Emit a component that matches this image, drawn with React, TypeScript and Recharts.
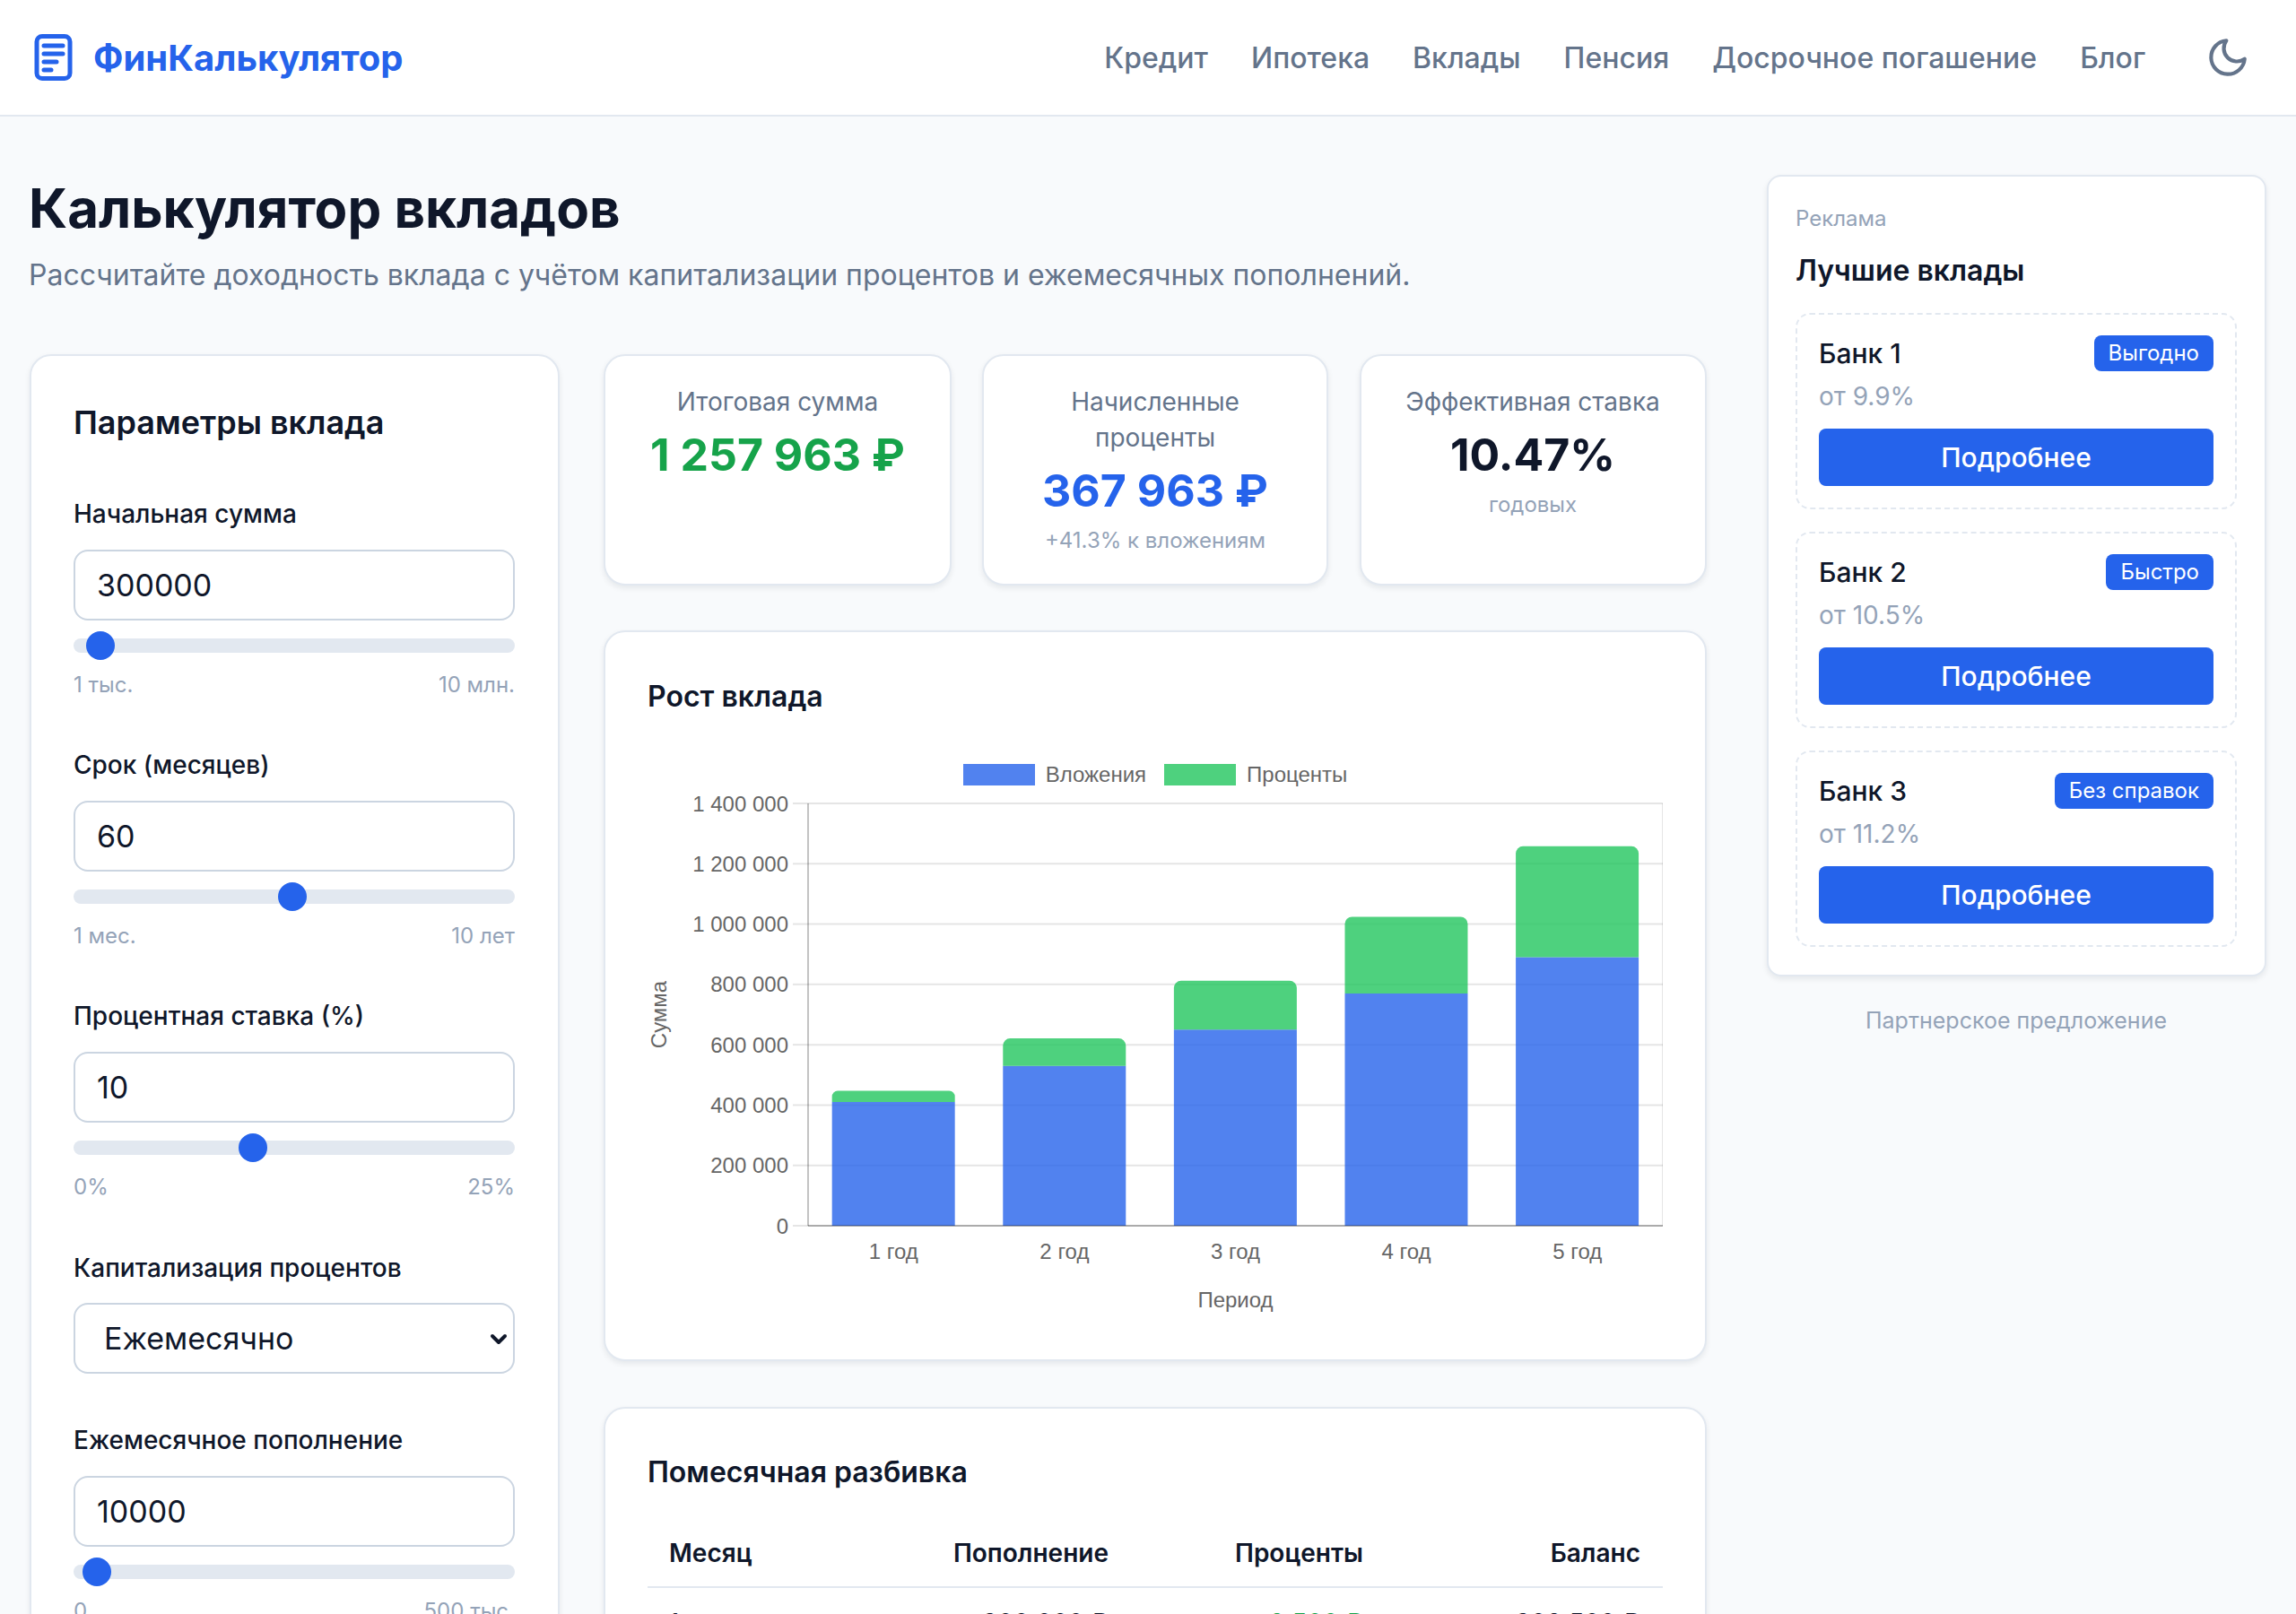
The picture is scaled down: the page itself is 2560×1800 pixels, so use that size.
import React from 'react';
import { BarChart, Bar, XAxis, YAxis, CartesianGrid, Legend } from 'recharts';

const years = ['1 год', '2 год', '3 год', '4 год', '5 год'];
const invested = [410000, 530000, 650000, 770000, 890000];
const interest = [37000, 91000, 162000, 254000, 367963];
const yTicks = [0, 200000, 400000, 600000, 800000, 1000000, 1200000, 1400000];
const gridTicks = [0, 1, 2, 3, 4, 5];

const navLinks = ['Кредит', 'Ипотека', 'Вклады', 'Пенсия', 'Досрочное погашение', 'Блог'];

const bankNames = ['Банк 1', 'Банк 2', 'Банк 3'];
const bankRates = ['от 9.9%', 'от 10.5%', 'от 11.2%'];
const bankBadges = ['Выгодно', 'Быстро', 'Без справок'];

const tableHeaders = ['Пополнение', 'Проценты', 'Баланс'];
const firstRow = ['300 000 ₽', '+2 500 ₽', '302 500 ₽'];

const chartData = years.map((name, i) => ({ name, invested: invested[i], interest: interest[i] }));

const FONT = 'Inter, sans-serif';
const CHART_FONT = '"Liberation Sans", Arial, sans-serif';
const BLUE = '#2563eb';
const DARK = '#0f172a';
const MUTED = '#64748b';
const LIGHT = '#94a3b8';
const BORDER = '#e2e8f0';
const GRID = 'rgba(0,0,0,0.1)';

const formatTick = (v: number) => String(v).replace(/\B(?=(\d{3})+$)/g, ' ');

// текст, привязанный к центру строки по вертикали
const T = ({ x, y, size, color = DARK, weight = 400, align = 'left', children }: any) => {
  const tx = align === 'center' ? '-50%' : align === 'right' ? '-100%' : '0';
  return (
    <div
      style={{
        position: 'absolute',
        left: x,
        top: y,
        transform: `translate(${tx}, -50%)`,
        fontSize: size,
        fontWeight: weight,
        color,
        lineHeight: 1.2,
        whiteSpace: 'nowrap',
      }}
    >
      {children}
    </div>
  );
};

const Card = ({ x, y, w, h, radius = 24 }: any) => (
  <div
    style={{
      position: 'absolute',
      left: x,
      top: y,
      width: w,
      height: h,
      boxSizing: 'border-box',
      background: '#fff',
      border: `2px solid ${BORDER}`,
      borderRadius: radius,
      boxShadow: '0 3px 6px rgba(15,23,42,0.08)',
    }}
  />
);

const TextBox = ({ y, value }: any) => (
  <div
    style={{
      position: 'absolute',
      left: 82,
      top: y,
      width: 492,
      height: 79,
      boxSizing: 'border-box',
      background: '#fff',
      border: '2px solid #cbd5e1',
      borderRadius: 16,
    }}
  >
    <T x={24} y={38} size={34}>{value}</T>
  </div>
);

const Slider = ({ y, thumbX, min, max }: any) => (
  <>
    <div style={{ position: 'absolute', left: 82, top: y - 8, width: 492, height: 16, borderRadius: 8, background: BORDER }} />
    <div style={{ position: 'absolute', left: thumbX - 16, top: y - 16, width: 32, height: 32, borderRadius: 16, background: BLUE }} />
    <T x={82} y={y + 44} size={24} color={LIGHT}>{min}</T>
    <T x={574} y={y + 44} size={24} color={LIGHT} align="right">{max}</T>
  </>
);

const ChartLegend = ({ payload }: any) => (
  <div style={{ display: 'flex', justifyContent: 'center', gap: 20, fontFamily: CHART_FONT, fontSize: 24, color: '#666', lineHeight: '24px' }}>
    {(payload || []).map((p: any) => (
      <div key={p.value} style={{ display: 'flex', gap: 12, alignItems: 'center' }}>
        <span style={{ width: 80, height: 24, background: p.color, display: 'block' }} />
        <span>{p.value}</span>
      </div>
    ))}
  </div>
);

const GrowthChart = () => (
  <BarChart
    width={1132}
    height={640}
    data={chartData}
    barCategoryGap="14%"
    margin={{ top: 36, right: 0, bottom: 0, left: 0 }}
    style={{ fontFamily: CHART_FONT }}
  >
    <CartesianGrid xAxisId="grid" stroke={GRID} strokeWidth={2} />
    <XAxis
      xAxisId="grid"
      type="number"
      domain={[0, 5]}
      ticks={gridTicks}
      height={0}
      tick={false}
      tickSize={16}
      tickLine={{ stroke: GRID, strokeWidth: 2 }}
      axisLine={false}
    />
    <XAxis
      dataKey="name"
      height={109}
      tickLine={false}
      tickMargin={14}
      axisLine={{ stroke: 'rgba(0,0,0,0.25)', strokeWidth: 2 }}
      tick={{ fill: '#666', fontSize: 24 }}
      label={{ value: 'Период', position: 'insideBottom', offset: 18, fill: '#666', fontSize: 24 }}
    />
    <YAxis
      width={179}
      domain={[0, 1400000]}
      ticks={yTicks}
      tickFormatter={formatTick}
      tickSize={17}
      tickMargin={5}
      tickLine={{ stroke: GRID, strokeWidth: 2 }}
      axisLine={{ stroke: 'rgba(0,0,0,0.15)', strokeWidth: 2 }}
      tick={{ fill: '#666', fontSize: 24 }}
      label={{ value: 'Сумма', angle: -90, position: 'insideLeft', offset: 12, fill: '#666', fontSize: 24, style: { textAnchor: 'middle' } }}
    />
    <Legend verticalAlign="top" content={ChartLegend} wrapperStyle={{ top: 16, left: 0, width: 1132 }} />
    <Bar dataKey="invested" name="Вложения" stackId="a" fill="rgba(37,99,235,0.8)" isAnimationActive={false} />
    <Bar dataKey="interest" name="Проценты" stackId="a" fill="rgba(34,197,94,0.8)" radius={[8, 8, 0, 0]} isAnimationActive={false} />
  </BarChart>
);

export default function App() {
  return (
    <div style={{ position: 'fixed', left: 0, top: 0, width: 2560, height: 1800, overflow: 'hidden', background: '#f8fafc', fontFamily: FONT }}>
      {/* Шапка */}
      <div style={{ position: 'absolute', left: 0, top: 0, width: 2560, height: 130, boxSizing: 'border-box', background: '#fff', borderBottom: `2px solid ${BORDER}` }} />
      <svg style={{ position: 'absolute', left: 36, top: 36 }} width={48} height={56} viewBox="0 0 48 56" fill="none" stroke={BLUE} strokeWidth={5}>
        <rect x={5} y={4.5} width={37} height={47} rx={6} />
        <path d="M13 15h21M13 24h21M13 33h14M13 42h8" strokeLinecap="round" />
      </svg>
      <T x={104} y={65} size={40} weight={700} color={BLUE}>ФинКалькулятор</T>
      <div style={{ position: 'absolute', right: 168, top: 46, display: 'flex', gap: 48, fontSize: 32, fontWeight: 500, color: MUTED, lineHeight: '38px', whiteSpace: 'nowrap' }}>
        {navLinks.map((l) => <span key={l}>{l}</span>)}
      </div>
      <svg style={{ position: 'absolute', left: 2459, top: 39 }} width={50} height={50} viewBox="0 0 24 24" fill="none" stroke={MUTED} strokeWidth={2} strokeLinecap="round" strokeLinejoin="round">
        <path d="M21 12.79A9 9 0 1 1 11.21 3 7 7 0 0 0 21 12.79z" />
      </svg>

      <T x={32} y={232} size={60} weight={700}>Калькулятор вкладов</T>
      <T x={32} y={307} size={32} color={MUTED}>Рассчитайте доходность вклада с учётом капитализации процентов и ежемесячных пополнений.</T>

      {/* Параметры */}
      <Card x={33} y={395} w={591} h={1500} />
      <T x={82} y={472} size={36} weight={600}>Параметры вклада</T>

      <T x={82} y={574} size={28} weight={500}>Начальная сумма</T>
      <TextBox y={613} value="300000" />
      <Slider y={720} thumbX={112} min="1 тыс." max="10 млн." />

      <T x={82} y={854} size={28} weight={500}>Срок (месяцев)</T>
      <TextBox y={893} value="60" />
      <Slider y={1000} thumbX={326} min="1 мес." max="10 лет" />

      <T x={82} y={1134} size={28} weight={500}>Процентная ставка (%)</T>
      <TextBox y={1173} value="10" />
      <Slider y={1280} thumbX={282} min="0%" max="25%" />

      <T x={82} y={1415} size={28} weight={500}>Капитализация процентов</T>
      <div style={{ position: 'absolute', left: 82, top: 1453, width: 492, height: 79, boxSizing: 'border-box', background: '#fff', border: '2px solid #cbd5e1', borderRadius: 16 }}>
        <T x={32} y={38} size={34}>Ежемесячно</T>
        <svg style={{ position: 'absolute', left: 462, top: 32 }} width={20} height={14} viewBox="0 0 20 14" fill="none" stroke={DARK} strokeWidth={4} strokeLinecap="round" strokeLinejoin="round">
          <path d="M3 3l7 7 7-7" />
        </svg>
      </div>

      <T x={82} y={1607} size={28} weight={500}>Ежемесячное пополнение</T>
      <TextBox y={1646} value="10000" />
      <Slider y={1753} thumbX={108} min="0" max="500 тыс." />

      {/* Итоги */}
      <Card x={673} y={395} w={388} h={258} />
      <T x={867} y={449} size={28} color={MUTED} align="center">Итоговая сумма</T>
      <T x={867} y={507} size={50} weight={700} color="#16a34a" align="center">1 257 963 ₽</T>

      <Card x={1095} y={395} w={386} h={258} />
      <T x={1288} y={449} size={28} color={MUTED} align="center">Начисленные</T>
      <T x={1288} y={489} size={28} color={MUTED} align="center">проценты</T>
      <T x={1288} y={547} size={50} weight={700} color={BLUE} align="center">367 963 ₽</T>
      <T x={1288} y={603} size={24} color={LIGHT} align="center">+41.3% к вложениям</T>

      <Card x={1516} y={395} w={387} h={258} />
      <T x={1709} y={449} size={28} color={MUTED} align="center">Эффективная ставка</T>
      <T x={1709} y={507} size={50} weight={700} align="center">10.47%</T>
      <T x={1709} y={563} size={24} color={LIGHT} align="center">годовых</T>

      {/* График */}
      <Card x={673} y={703} w={1230} h={815} />
      <T x={722} y={777} size={32} weight={600}>Рост вклада</T>
      <div style={{ position: 'absolute', left: 722, top: 836 }}>
        <GrowthChart />
      </div>

      {/* Таблица */}
      <Card x={673} y={1569} w={1230} h={500} />
      <T x={722} y={1642} size={32} weight={600}>Помесячная разбивка</T>
      <T x={746} y={1733} size={28} weight={600}>Месяц</T>
      {tableHeaders.map((h, i) => (
        <T key={h} x={[1236, 1520, 1829][i]} y={1733} size={28} weight={600} align="right">{h}</T>
      ))}
      <div style={{ position: 'absolute', left: 722, top: 1769, width: 1132, height: 2, background: BORDER }} />
      <T x={746} y={1811} size={28}>1</T>
      {firstRow.map((v, i) => (
        <T key={v} x={[1236, 1520, 1829][i]} y={1811} size={28} color={i === 1 ? '#16a34a' : DARK} align="right">{v}</T>
      ))}

      {/* Реклама */}
      <Card x={1970} y={195} w={557} h={894} radius={16} />
      <T x={2002} y={244} size={24} color={LIGHT}>Реклама</T>
      <T x={2002} y={302} size={32} weight={600}>Лучшие вклады</T>
      {bankNames.map((name, i) => {
        const top = 349 + i * 244;
        return (
          <React.Fragment key={name}>
            <div style={{ position: 'absolute', left: 2002, top, width: 492, height: 219, boxSizing: 'border-box', border: `2px dashed ${BORDER}`, borderRadius: 16 }} />
            <T x={2028} y={top + 45} size={30} weight={500}>{name}</T>
            <div style={{ position: 'absolute', right: 2560 - 2468, top: top + 25, height: 40, padding: '0 16px', background: BLUE, borderRadius: 8, color: '#fff', fontSize: 24, lineHeight: '40px' }}>
              {bankBadges[i]}
            </div>
            <T x={2028} y={top + 94} size={28} color={LIGHT}>{bankRates[i]}</T>
            <div style={{ position: 'absolute', left: 2028, top: top + 129, width: 440, height: 64, background: BLUE, borderRadius: 8, color: '#fff', fontSize: 30, fontWeight: 500, lineHeight: '64px', textAlign: 'center' }}>
              Подробнее
            </div>
          </React.Fragment>
        );
      })}
      <T x={2248} y={1138} size={25} color={LIGHT} align="center">Партнерское предложение</T>
    </div>
  );
}
